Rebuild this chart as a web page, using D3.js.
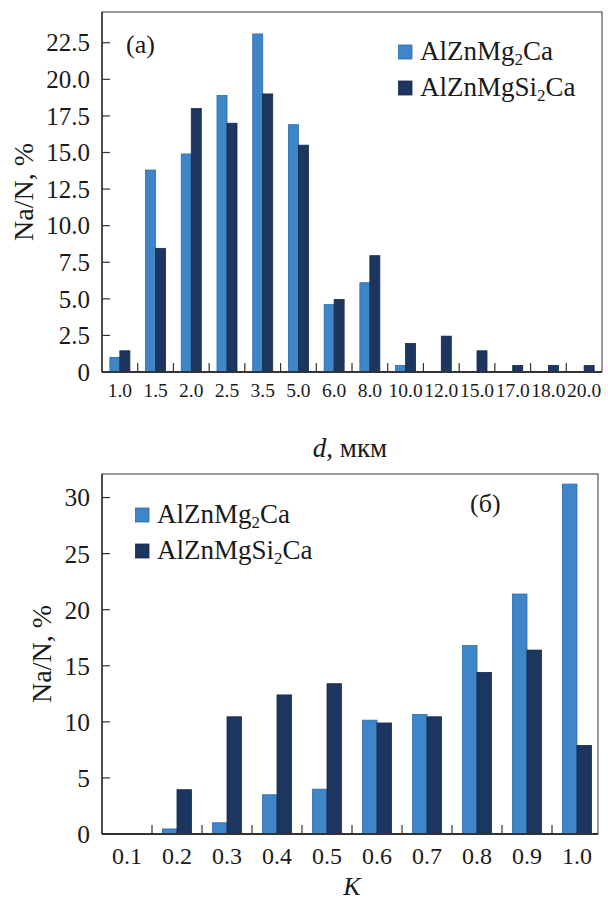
<!DOCTYPE html>
<html>
<head>
<meta charset="utf-8">
<script src="https://cdn.jsdelivr.net/npm/d3@7"></script>
<style>
  body { margin: 0; background: #fff; }
  svg { display: block; font-family: "Liberation Serif", "DejaVu Serif", serif; }
</style>
</head>
<body>
<svg width="608" height="901"></svg>
<script>
// panel (a): size classes, мкм
const sizeCats = ["1.0", "1.5", "2.0", "2.5", "3.5", "5.0", "6.0", "8.0", "10.0", "12.0", "15.0", "17.0", "18.0", "20.0"];
const sizeMg2 = [1.0, 13.8, 14.9, 18.9, 23.1, 16.9, 4.6, 6.1, 0.45, 0, 0, 0, 0, 0];
const sizeSi2 = [1.45, 8.45, 18.0, 17.0, 19.0, 15.5, 4.95, 7.95, 1.95, 2.45, 1.45, 0.45, 0.45, 0.45];
const sizeTicks = [0, 2.5, 5, 7.5, 10, 12.5, 15, 17.5, 20, 22.5];

// panel (б): shape factor K
const kCats = ["0.1", "0.2", "0.3", "0.4", "0.5", "0.6", "0.7", "0.8", "0.9", "1.0"];
const kMg2 = [0, 0.45, 1.0, 3.5, 4.0, 10.15, 10.65, 16.8, 21.4, 31.2];
const kSi2 = [0, 3.95, 10.45, 12.4, 13.4, 9.9, 10.45, 14.4, 16.4, 7.9];
const kTicks = [0, 5, 10, 15, 20, 25, 30];

const seriesNames = [["AlZnMg", "2", "Ca"], ["AlZnMgSi", "2", "Ca"]];
const colors = ["#3e86c8", "#1c365f"];
const strokes = ["#2d6aa8", "#152a4b"];
const ink = "#1a1a1a";

const svg = d3.select("svg");

function panel(opt) {
  const g = svg.append("g");
  const x = d3.scaleBand().domain(opt.cats).range([opt.left, opt.right]);
  const inner = d3.scaleBand().domain([0, 1])
    .range([x.bandwidth() * (1 - opt.group) / 2, x.bandwidth() * (1 + opt.group) / 2]);
  const y = d3.scaleLinear().domain([0, opt.ymax]).range([opt.bottom, opt.top]);

  const rows = opt.cats.map((c, i) => ({ c, v: [opt.a[i], opt.b[i]] }));

  // bars
  g.append("g").selectAll("g")
    .data(rows)
    .join("g")
    .attr("transform", d => `translate(${x(d.c)},0)`)
    .selectAll("rect")
    .data(d => d.v.map((v, k) => ({ v, k })).filter(e => e.v > 0))
    .join("rect")
    .attr("x", e => inner(e.k))
    .attr("width", inner.bandwidth())
    .attr("y", e => y(e.v))
    .attr("height", e => opt.bottom - y(e.v))
    .attr("fill", e => colors[e.k])
    .attr("stroke", e => strokes[e.k])
    .attr("stroke-width", 0.8);

  // frame
  g.append("rect")
    .attr("x", opt.left).attr("y", opt.top)
    .attr("width", opt.frameRight - opt.left).attr("height", opt.bottom - opt.top)
    .attr("fill", "none").attr("stroke", "#333").attr("stroke-width", 1);
  g.append("line")
    .attr("x1", opt.left).attr("x2", opt.frameRight)
    .attr("y1", opt.bottom).attr("y2", opt.bottom)
    .attr("stroke", "#333").attr("stroke-width", 1.8);
  g.append("line")
    .attr("x1", opt.left).attr("x2", opt.left)
    .attr("y1", opt.top).attr("y2", opt.bottom)
    .attr("stroke", "#333").attr("stroke-width", 1.5);

  // y ticks (inward)
  const yt = g.append("g");
  yt.selectAll("line").data(opt.yticks).join("line")
    .attr("x1", opt.left).attr("x2", opt.left + 8)
    .attr("y1", d => y(d)).attr("y2", d => y(d))
    .attr("stroke", "#333").attr("stroke-width", 1.2);
  yt.selectAll("text").data(opt.yticks).join("text")
    .attr("x", opt.left - 12).attr("y", d => y(d)).attr("dy", "0.35em")
    .attr("text-anchor", "end").attr("font-size", opt.yfont).attr("fill", ink)
    .text(opt.yfmt);

  // x ticks between categories (pointing up)
  const bounds = opt.cats.slice(1).map(c => x(c));
  g.append("g").selectAll("line").data(bounds).join("line")
    .attr("x1", d => d).attr("x2", d => d)
    .attr("y1", opt.bottom).attr("y2", opt.bottom - 9)
    .attr("stroke", "#333").attr("stroke-width", 1.2);
  g.append("g").selectAll("text").data(opt.cats).join("text")
    .attr("x", d => x(d) + x.bandwidth() / 2).attr("y", opt.xlabelY)
    .attr("text-anchor", "middle").attr("font-size", opt.xfont).attr("fill", ink)
    .text(d => d);

  // y title
  g.append("text")
    .attr("transform", `translate(${opt.ytitleX},${(opt.top + opt.bottom) / 2}) rotate(-90)`)
    .attr("text-anchor", "middle").attr("font-size", 28).attr("fill", ink)
    .text("Na/N, %");

  // panel label
  g.append("text").attr("x", opt.tagX).attr("y", opt.tagY)
    .attr("font-size", 26).attr("fill", ink).text(opt.tag);

  // legend
  const lg = g.append("g");
  seriesNames.forEach((n, k) => {
    const yy = opt.legY + k * opt.legStep;
    lg.append("rect").attr("x", opt.legX).attr("y", yy - 15)
      .attr("width", 13.5).attr("height", 14)
      .attr("fill", colors[k]).attr("stroke", strokes[k]).attr("stroke-width", 0.8);
    const t = lg.append("text").attr("x", opt.legX + 21.5).attr("y", yy)
      .attr("font-size", 27).attr("fill", ink);
    t.append("tspan").text(n[0]);
    t.append("tspan").attr("font-size", 17).attr("dy", 5).text(n[1]);
    t.append("tspan").attr("dy", -5).text(n[2]);
  });

  return { x, y };
}

panel({
  cats: sizeCats, a: sizeMg2, b: sizeSi2, yticks: sizeTicks,
  left: 102, right: 602, frameRight: 602, top: 12, bottom: 372, ymax: 24.6,
  group: 0.56, yfont: 25, xfont: 19.5, xlabelY: 397,
  yfmt: d => d === 0 ? "0" : d3.format(".1f")(d),
  ytitleX: 33, tag: "(a)", tagX: 126, tagY: 53,
  legX: 398.5, legY: 60, legStep: 36
});

panel({
  cats: kCats, a: kMg2, b: kSi2, yticks: kTicks,
  left: 102, right: 602, frameRight: 598, top: 474, bottom: 834, ymax: 32.1,
  group: 0.58, yfont: 25.5, xfont: 24, xlabelY: 864,
  yfmt: d => String(d),
  ytitleX: 51, tag: "(б)", tagX: 470, tagY: 512,
  legX: 135.5, legY: 523, legStep: 36
});

// x titles
const dt = svg.append("text").attr("x", 350).attr("y", 457)
  .attr("text-anchor", "middle").attr("font-size", 27).attr("fill", ink);
dt.append("tspan").attr("font-style", "italic").text("d");
dt.append("tspan").text(", мкм");

svg.append("text").attr("x", 352).attr("y", 895)
  .attr("text-anchor", "middle").attr("font-size", 26).attr("font-style", "italic")
  .attr("fill", ink).text("K");
</script>
</body>
</html>
